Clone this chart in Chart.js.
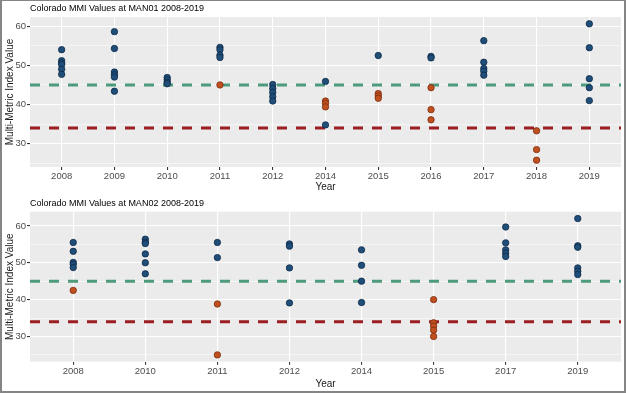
<!DOCTYPE html>
<html>
<head>
<meta charset="utf-8">
<script src="https://cdn.jsdelivr.net/npm/chart.js@4.4.0/dist/chart.umd.min.js"></script>
<style>
    html, body { margin: 0; padding: 0; background: #fff; }
    #page { position: relative; width: 626px; height: 393px; overflow: hidden; }
    .panel { position: absolute; left: 0; width: 626px; }
    #frame { position: absolute; left: 0; top: 0; width: 626px; height: 393px; box-sizing: border-box;
             border: solid #858585; border-width: 1px 2px 2px 2px; pointer-events: none; }
</style>
</head>
<body>
<div id="page">
    <div class="panel" style="top:0;height:196px"><canvas id="man01Chart" width="626" height="196"></canvas></div>
    <div class="panel" style="top:196px;height:197px"><canvas id="man02Chart" width="626" height="197"></canvas></div>
    <div id="frame"></div>
</div>
<script>
// MAN01 - values per year, blue = above-threshold marker, orange = flagged
var man01Years = ['2008', '2009', '2010', '2011', '2012', '2014', '2015', '2016', '2017', '2018', '2019'];
var man01Blue = [
    [54.0, 51.2, 50.6, 50.2, 49.0, 47.7],
    [58.6, 54.3, 48.3, 47.6, 47.0, 43.4],
    [46.9, 46.3, 45.7, 45.3],
    [54.6, 54.0, 52.6, 52.0],
    [45.1, 44.1, 43.1, 42.0, 40.9],
    [45.9, 34.8],
    [52.5],
    [52.3, 51.9],
    [56.3, 50.8, 49.2, 48.5, 47.5],
    [],
    [60.6, 54.5, 46.6, 44.3, 41.0]
];
var man01Orange = [[], [], [], [45.0], [], [40.9, 40.3, 39.4], [42.8, 42.2, 41.6], [44.3, 38.7, 36.1], [], [33.3, 28.5, 25.8], []];

// MAN02
var man02Years = ['2008', '2010', '2011', '2012', '2014', '2015', '2017', '2019'];
var man02Blue = [
    [55.5, 53.1, 50.1, 49.6, 48.7],
    [56.4, 55.6, 55.2, 52.4, 50.0, 47.0],
    [55.5, 51.4],
    [55.1, 54.5, 48.6, 39.1],
    [53.5, 49.3, 45.0, 39.2],
    [],
    [59.7, 55.4, 53.5, 52.6, 51.7],
    [62.0, 54.6, 54.2, 48.6, 47.7, 46.8]
];
var man02Orange = [[42.5], [], [38.8, 25.0], [], [], [40.0, 33.7, 32.8, 31.7, 30.0], [], []];

// thresholds
var attainment = 45;
var impairment = 34;
var yTicks = [25, 30, 35, 40, 45, 50, 55, 60];

var FONT = '"Liberation Sans", Arial, sans-serif';

// grey panel + small title in the top left, ggplot style
var panelPlugin = {
    id: 'panel',
    beforeDraw: function (chart, args, opts) {
        var ctx = chart.ctx, a = chart.chartArea;
        ctx.save();
        ctx.fillStyle = '#ebebeb';
        ctx.fillRect(a.left, a.top, a.right - a.left, a.bottom - a.top);
        ctx.fillStyle = '#000';
        ctx.font = '9px ' + FONT;
        ctx.textBaseline = 'middle';
        ctx.fillText(opts.text, a.left, a.top - 8.5);
        ctx.restore();
    }
};

function toPoints(groups) {
    var pts = [];
    groups.forEach(function (vals, i) {
        vals.forEach(function (v) { pts.push({ x: i, y: v }); });
    });
    return pts;
}

function hline(value, n, color) {
    return {
        type: 'line',
        data: [{ x: -0.6, y: value }, { x: n - 0.4, y: value }],
        borderColor: color,
        borderWidth: 3,
        borderDash: [10, 9],
        pointRadius: 0,
        fill: false
    };
}

function drawSiteChart(id, title, years, blue, orange, geo) {
    var n = years.length;
    var ctx = document.getElementById(id).getContext('2d');
    return new Chart(ctx, {
        type: 'scatter',
        plugins: [panelPlugin],
        data: {
            datasets: [
                {
                    data: toPoints(blue),
                    backgroundColor: '#1f4e79',
                    borderColor: '#0e2a47',
                    borderWidth: 0.8,
                    pointRadius: 3.2
                },
                {
                    data: toPoints(orange),
                    backgroundColor: '#c0501f',
                    borderColor: '#7a2d0f',
                    borderWidth: 0.8,
                    pointRadius: 3.2
                },
                hline(attainment, n, '#4e9a7c'),
                hline(impairment, n, '#9b1f22')
            ]
        },
        options: {
            responsive: false,
            animation: false,
            layout: {
                padding: { top: geo.top, left: 0, right: 5, bottom: geo.bottom }
            },
            plugins: {
                legend: { display: false },
                tooltip: { enabled: false },
                panel: { text: title }
            },
            scales: {
                x: {
                    type: 'linear',
                    min: -0.6,
                    max: n - 0.4,
                    afterBuildTicks: function (scale) {
                        scale.ticks = years.map(function (y, i) { return { value: i }; });
                    },
                    afterFit: function (scale) { scale.height = geo.xAxisHeight; },
                    border: { display: false },
                    grid: { color: '#ffffff', lineWidth: 1.1, tickLength: 3, tickColor: '#333333' },
                    ticks: {
                        autoSkip: false,
                        maxRotation: 0,
                        padding: 1,
                        color: '#4d4d4d',
                        font: { family: FONT, size: 9.5 },
                        callback: function (v) { return years[v]; }
                    },
                    title: {
                        display: true,
                        text: 'Year',
                        color: '#1a1a1a',
                        font: { family: FONT, size: 10 },
                        padding: { top: 0, bottom: 0 }
                    }
                },
                y: {
                    min: geo.yMin,
                    max: geo.yMax,
                    afterBuildTicks: function (scale) {
                        scale.ticks = yTicks.map(function (v) { return { value: v }; });
                    },
                    afterFit: function (scale) { scale.width = 30; },
                    border: { display: false },
                    grid: {
                        color: '#ffffff',
                        lineWidth: function (c) { return c.tick && c.tick.value % 10 === 0 ? 1.1 : 0.5; },
                        tickLength: 3,
                        tickColor: function (c) { return c.tick && c.tick.value % 10 === 0 ? '#333333' : 'rgba(0,0,0,0)'; }
                    },
                    ticks: {
                        padding: 1,
                        color: '#4d4d4d',
                        font: { family: FONT, size: 9.5 },
                        callback: function (v) { return v % 10 === 0 ? v : ''; }
                    },
                    title: {
                        display: true,
                        text: 'Multi-Metric Index Value',
                        color: '#1a1a1a',
                        font: { family: FONT, size: 10 },
                        padding: { top: 4, bottom: 0 }
                    }
                }
            }
        }
    });
}

drawSiteChart('man01Chart', 'Colorado MMI Values at MAN01 2008-2019', man01Years, man01Blue, man01Orange,
    { top: 17, bottom: 3, xAxisHeight: 26, yMin: 24.06, yMax: 62.34 });
drawSiteChart('man02Chart', 'Colorado MMI Values at MAN02 2008-2019', man02Years, man02Blue, man02Orange,
    { top: 15.7, bottom: 3, xAxisHeight: 28.3, yMin: 23.15, yMax: 63.85 });
</script>
</body>
</html>
